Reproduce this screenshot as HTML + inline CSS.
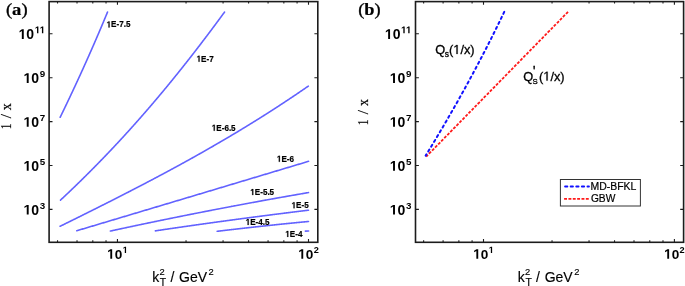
<!DOCTYPE html>
<html><head><meta charset="utf-8"><title>plot</title>
<style>
html,body{margin:0;padding:0;background:#fff;}
body{width:685px;height:286px;overflow:hidden;}
svg{display:block;will-change:transform;}

</style></head>
<body>
<svg width="685" height="286" viewBox="0 0 685 286">
<rect width="685" height="286" fill="#fff"/>
<rect x="49.10" y="1.60" width="268.70" height="240.70" fill="none" stroke="#1c1c1c" stroke-width="1.6"/>
<path d="M117.45,242.30V239.10M117.45,1.60V4.80M308.50,242.30V239.10M308.50,1.60V4.80M106.03,242.30V240.30M106.03,1.60V3.60M92.79,242.30V240.30M92.79,1.60V3.60M77.02,242.30V240.30M77.02,1.60V3.60M57.53,242.30V240.30M57.53,1.60V3.60M186.04,242.30V240.30M186.04,1.60V3.60M223.07,242.30V240.30M223.07,1.60V3.60M248.58,242.30V240.30M248.58,1.60V3.60M268.07,242.30V240.30M268.07,1.60V3.60M283.84,242.30V240.30M283.84,1.60V3.60M297.08,242.30V240.30M297.08,1.60V3.60M49.10,209.40H52.50M317.80,209.40H314.40M49.10,165.50H52.50M317.80,165.50H314.40M49.10,121.60H52.50M317.80,121.60H314.40M49.10,77.70H52.50M317.80,77.70H314.40M49.10,33.80H52.50M317.80,33.80H314.40" stroke="#1c1c1c" stroke-width="1.1" fill="none"/>
<text x="31.26" y="214.60" font-family='"Liberation Sans", sans-serif' font-weight="bold" font-size="14" fill="#000">0</text><path d="M478,0L759,0L759,1409L493,1409L140,1180L140,959L478,1170Z" transform="translate(23.48,214.60) scale(0.00684,-0.00684)" fill="#000"/>
<text x="39.65" y="208.90" font-family='"Liberation Sans", sans-serif' font-weight="bold" font-size="9.8" fill="#000">3</text>
<text x="31.26" y="170.70" font-family='"Liberation Sans", sans-serif' font-weight="bold" font-size="14" fill="#000">0</text><path d="M478,0L759,0L759,1409L493,1409L140,1180L140,959L478,1170Z" transform="translate(23.48,170.70) scale(0.00684,-0.00684)" fill="#000"/>
<text x="39.65" y="165.00" font-family='"Liberation Sans", sans-serif' font-weight="bold" font-size="9.8" fill="#000">5</text>
<text x="31.26" y="126.80" font-family='"Liberation Sans", sans-serif' font-weight="bold" font-size="14" fill="#000">0</text><path d="M478,0L759,0L759,1409L493,1409L140,1180L140,959L478,1170Z" transform="translate(23.48,126.80) scale(0.00684,-0.00684)" fill="#000"/>
<text x="39.65" y="121.10" font-family='"Liberation Sans", sans-serif' font-weight="bold" font-size="9.8" fill="#000">7</text>
<text x="31.26" y="82.90" font-family='"Liberation Sans", sans-serif' font-weight="bold" font-size="14" fill="#000">0</text><path d="M478,0L759,0L759,1409L493,1409L140,1180L140,959L478,1170Z" transform="translate(23.48,82.90) scale(0.00684,-0.00684)" fill="#000"/>
<text x="39.65" y="77.20" font-family='"Liberation Sans", sans-serif' font-weight="bold" font-size="9.8" fill="#000">9</text>
<text x="26.35" y="39.00" font-family='"Liberation Sans", sans-serif' font-weight="bold" font-size="14" fill="#000">0</text><path d="M478,0L759,0L759,1409L493,1409L140,1180L140,959L478,1170Z" transform="translate(18.57,39.00) scale(0.00684,-0.00684)" fill="#000"/>
<path d="M478,0L759,0L759,1409L493,1409L140,1180L140,959L478,1170Z" transform="translate(34.74,33.30) scale(0.00479,-0.00479)" fill="#000"/><path d="M478,0L759,0L759,1409L493,1409L140,1180L140,959L478,1170Z" transform="translate(39.65,33.30) scale(0.00479,-0.00479)" fill="#000"/>
<text x="114.69" y="258.70" font-family='"Liberation Sans", sans-serif' font-weight="bold" font-size="13.6" fill="#000">0</text><path d="M478,0L759,0L759,1409L493,1409L140,1180L140,959L478,1170Z" transform="translate(107.13,258.70) scale(0.00664,-0.00664)" fill="#000"/>
<path d="M478,0L759,0L759,1409L493,1409L140,1180L140,959L478,1170Z" transform="translate(122.66,253.10) scale(0.00449,-0.00449)" fill="#000"/>
<text x="305.74" y="258.70" font-family='"Liberation Sans", sans-serif' font-weight="bold" font-size="13.6" fill="#000">0</text><path d="M478,0L759,0L759,1409L493,1409L140,1180L140,959L478,1170Z" transform="translate(298.18,258.70) scale(0.00664,-0.00664)" fill="#000"/>
<text x="313.71" y="253.10" font-family='"Liberation Sans", sans-serif' font-weight="bold" font-size="9.2" fill="#000">2</text>
<rect x="415.50" y="1.60" width="268.10" height="240.70" fill="none" stroke="#1c1c1c" stroke-width="1.6"/>
<path d="M483.50,242.30V239.10M483.50,1.60V4.80M674.40,242.30V239.10M674.40,1.60V4.80M472.09,242.30V240.30M472.09,1.60V3.60M458.86,242.30V240.30M458.86,1.60V3.60M443.10,242.30V240.30M443.10,1.60V3.60M423.63,242.30V240.30M423.63,1.60V3.60M552.04,242.30V240.30M552.04,1.60V3.60M589.04,242.30V240.30M589.04,1.60V3.60M614.53,242.30V240.30M614.53,1.60V3.60M634.00,242.30V240.30M634.00,1.60V3.60M649.76,242.30V240.30M649.76,1.60V3.60M662.99,242.30V240.30M662.99,1.60V3.60M415.50,209.40H418.90M683.60,209.40H680.20M415.50,165.50H418.90M683.60,165.50H680.20M415.50,121.60H418.90M683.60,121.60H680.20M415.50,77.70H418.90M683.60,77.70H680.20M415.50,33.80H418.90M683.60,33.80H680.20" stroke="#1c1c1c" stroke-width="1.1" fill="none"/>
<text x="397.56" y="214.60" font-family='"Liberation Sans", sans-serif' font-weight="bold" font-size="14" fill="#000">0</text><path d="M478,0L759,0L759,1409L493,1409L140,1180L140,959L478,1170Z" transform="translate(389.78,214.60) scale(0.00684,-0.00684)" fill="#000"/>
<text x="405.95" y="208.90" font-family='"Liberation Sans", sans-serif' font-weight="bold" font-size="9.8" fill="#000">3</text>
<text x="397.56" y="170.70" font-family='"Liberation Sans", sans-serif' font-weight="bold" font-size="14" fill="#000">0</text><path d="M478,0L759,0L759,1409L493,1409L140,1180L140,959L478,1170Z" transform="translate(389.78,170.70) scale(0.00684,-0.00684)" fill="#000"/>
<text x="405.95" y="165.00" font-family='"Liberation Sans", sans-serif' font-weight="bold" font-size="9.8" fill="#000">5</text>
<text x="397.56" y="126.80" font-family='"Liberation Sans", sans-serif' font-weight="bold" font-size="14" fill="#000">0</text><path d="M478,0L759,0L759,1409L493,1409L140,1180L140,959L478,1170Z" transform="translate(389.78,126.80) scale(0.00684,-0.00684)" fill="#000"/>
<text x="405.95" y="121.10" font-family='"Liberation Sans", sans-serif' font-weight="bold" font-size="9.8" fill="#000">7</text>
<text x="397.56" y="82.90" font-family='"Liberation Sans", sans-serif' font-weight="bold" font-size="14" fill="#000">0</text><path d="M478,0L759,0L759,1409L493,1409L140,1180L140,959L478,1170Z" transform="translate(389.78,82.90) scale(0.00684,-0.00684)" fill="#000"/>
<text x="405.95" y="77.20" font-family='"Liberation Sans", sans-serif' font-weight="bold" font-size="9.8" fill="#000">9</text>
<text x="392.65" y="39.00" font-family='"Liberation Sans", sans-serif' font-weight="bold" font-size="14" fill="#000">0</text><path d="M478,0L759,0L759,1409L493,1409L140,1180L140,959L478,1170Z" transform="translate(384.87,39.00) scale(0.00684,-0.00684)" fill="#000"/>
<path d="M478,0L759,0L759,1409L493,1409L140,1180L140,959L478,1170Z" transform="translate(401.04,33.30) scale(0.00479,-0.00479)" fill="#000"/><path d="M478,0L759,0L759,1409L493,1409L140,1180L140,959L478,1170Z" transform="translate(405.95,33.30) scale(0.00479,-0.00479)" fill="#000"/>
<text x="480.74" y="258.70" font-family='"Liberation Sans", sans-serif' font-weight="bold" font-size="13.6" fill="#000">0</text><path d="M478,0L759,0L759,1409L493,1409L140,1180L140,959L478,1170Z" transform="translate(473.18,258.70) scale(0.00664,-0.00664)" fill="#000"/>
<path d="M478,0L759,0L759,1409L493,1409L140,1180L140,959L478,1170Z" transform="translate(488.71,253.10) scale(0.00449,-0.00449)" fill="#000"/>
<text x="671.64" y="258.70" font-family='"Liberation Sans", sans-serif' font-weight="bold" font-size="13.6" fill="#000">0</text><path d="M478,0L759,0L759,1409L493,1409L140,1180L140,959L478,1170Z" transform="translate(664.08,258.70) scale(0.00664,-0.00664)" fill="#000"/>
<text x="679.61" y="253.10" font-family='"Liberation Sans", sans-serif' font-weight="bold" font-size="9.2" fill="#000">2</text>
<text x="5.9" y="15.2" font-family='"Liberation Serif", serif' font-size="17.1" textLength="21.7" lengthAdjust="spacingAndGlyphs" stroke="#000" stroke-width="0.35">(<tspan font-weight="bold" stroke-width="0.2">a</tspan>)</text>
<text x="358.2" y="15.2" font-family='"Liberation Serif", serif' font-size="17.1" textLength="22.5" lengthAdjust="spacingAndGlyphs" stroke="#000" stroke-width="0.35">(<tspan font-weight="bold" stroke-width="0.2">b</tspan>)</text>
<g font-family='"Liberation Serif", serif' text-anchor="middle" fill="#000" stroke="#000" stroke-width="0.2"><text transform="translate(10.75,106.70) rotate(-90) scale(0.9,1)" font-size="15.6">x</text><text transform="translate(10.75,116.05) rotate(-90)" font-size="15">/</text><text transform="translate(10.75,126.35) rotate(-90) scale(0.78,1)" font-size="14.8">1</text></g>
<g font-family='"Liberation Serif", serif' text-anchor="middle" fill="#000" stroke="#000" stroke-width="0.2"><text transform="translate(367.80,102.55) rotate(-90) scale(0.9,1)" font-size="15.6">x</text><text transform="translate(367.80,112.25) rotate(-90)" font-size="15">/</text><text transform="translate(367.80,122.40) rotate(-90) scale(0.78,1)" font-size="14.8">1</text></g>
<text y="281.7" font-family='"Liberation Sans", sans-serif' font-size="14" fill="#000" stroke="#000" stroke-width="0.15"><tspan x="152.20">k</tspan><tspan x="159.50" y="275.4" font-size="9.3">2</tspan><tspan x="159.80" y="285.5" font-size="10.4">T</tspan><tspan x="170.40" y="281.7">/</tspan><tspan x="179.10" y="281.7">GeV</tspan><tspan x="208.60" y="275.4" font-size="9.3">2</tspan></text>
<text y="281.7" font-family='"Liberation Sans", sans-serif' font-size="14" fill="#000" stroke="#000" stroke-width="0.15"><tspan x="517.80">k</tspan><tspan x="525.10" y="275.4" font-size="9.3">2</tspan><tspan x="525.40" y="285.5" font-size="10.4">T</tspan><tspan x="536.00" y="281.7">/</tspan><tspan x="544.70" y="281.7">GeV</tspan><tspan x="574.20" y="275.4" font-size="9.3">2</tspan></text>
<g fill="none" stroke="#6262ff" stroke-width="1.6" stroke-linecap="round" stroke-linejoin="round"><path d="M107.55,12.03 L107.31,12.60 L107.07,13.18 L106.84,13.75 L106.60,14.33 L106.36,14.90 L106.12,15.48 L105.88,16.05 L105.64,16.63 L105.40,17.20 L105.16,17.78 L104.92,18.35 L104.68,18.93 L104.44,19.50 L104.20,20.08 L103.96,20.65 L103.72,21.23 L103.48,21.80 L103.24,22.38 L103.00,22.96 L102.75,23.53 L102.51,24.11 L102.27,24.68 L102.03,25.26 L101.78,25.83 L101.54,26.41 L101.30,26.98 L101.05,27.56 L100.81,28.13 L100.57,28.71 L100.32,29.28 L100.08,29.86 L99.83,30.43 L99.59,31.01 L99.34,31.58 L99.10,32.16 L98.85,32.73 L98.60,33.31 L98.36,33.88 L98.11,34.46 L97.86,35.03 L97.62,35.61 L97.37,36.18 L97.12,36.76 L96.88,37.33 L96.63,37.91 L96.38,38.49 L96.13,39.06 L95.88,39.64 L95.63,40.21 L95.38,40.79 L95.14,41.36 L94.89,41.94 L94.64,42.51 L94.39,43.09 L94.14,43.66 L93.89,44.24 L93.63,44.81 L93.38,45.39 L93.13,45.96 L92.88,46.54 L92.63,47.11 L92.38,47.69 L92.13,48.26 L91.87,48.84 L91.62,49.41 L91.37,49.99 L91.11,50.56 L90.86,51.14 L90.61,51.71 L90.35,52.29 L90.10,52.87 L89.85,53.44 L89.59,54.02 L89.34,54.59 L89.08,55.17 L88.83,55.74 L88.57,56.32 L88.31,56.89 L88.06,57.47 L87.80,58.04 L87.55,58.62 L87.29,59.19 L87.03,59.77 L86.78,60.34 L86.52,60.92 L86.26,61.49 L86.00,62.07 L85.75,62.64 L85.49,63.22 L85.23,63.79 L84.97,64.37 L84.71,64.94 L84.45,65.52 L84.19,66.09 L83.93,66.67 L83.67,67.24 L83.41,67.82 L83.15,68.40 L82.89,68.97 L82.63,69.55 L82.37,70.12 L82.11,70.70 L81.85,71.27 L81.58,71.85 L81.32,72.42 L81.06,73.00 L80.80,73.57 L80.54,74.15 L80.27,74.72 L80.01,75.30 L79.75,75.87 L79.48,76.45 L79.22,77.02 L78.95,77.60 L78.69,78.17 L78.42,78.75 L78.16,79.32 L77.89,79.90 L77.63,80.47 L77.36,81.05 L77.10,81.62 L76.83,82.20 L76.57,82.77 L76.30,83.35 L76.03,83.93 L75.77,84.50 L75.50,85.08 L75.23,85.65 L74.96,86.23 L74.70,86.80 L74.43,87.38 L74.16,87.95 L73.89,88.53 L73.62,89.10 L73.35,89.68 L73.08,90.25 L72.81,90.83 L72.54,91.40 L72.27,91.98 L72.00,92.55 L71.73,93.13 L71.46,93.70 L71.19,94.28 L70.92,94.85 L70.65,95.43 L70.38,96.00 L70.10,96.58 L69.83,97.15 L69.56,97.73 L69.29,98.30 L69.01,98.88 L68.74,99.46 L68.47,100.03 L68.19,100.61 L67.92,101.18 L67.65,101.76 L67.37,102.33 L67.10,102.91 L66.82,103.48 L66.55,104.06 L66.27,104.63 L66.00,105.21 L65.72,105.78 L65.45,106.36 L65.17,106.93 L64.89,107.51 L64.62,108.08 L64.34,108.66 L64.06,109.23 L63.78,109.81 L63.51,110.38 L63.23,110.96 L62.95,111.53 L62.67,112.11 L62.39,112.68 L62.12,113.26 L61.84,113.83 L61.56,114.41 L61.28,114.99 L61.00,115.56 L60.72,116.14 L60.44,116.71 L60.16,117.29"/><path d="M224.58,12.03 L224.16,12.60 L223.74,13.18 L223.31,13.75 L222.89,14.33 L222.47,14.90 L222.05,15.48 L221.62,16.05 L221.20,16.63 L220.78,17.20 L220.35,17.78 L219.93,18.35 L219.51,18.93 L219.08,19.50 L218.66,20.08 L218.23,20.65 L217.81,21.23 L217.38,21.80 L216.95,22.38 L216.53,22.96 L216.10,23.53 L215.67,24.11 L215.25,24.68 L214.82,25.26 L214.39,25.83 L213.96,26.41 L213.53,26.98 L213.11,27.56 L212.68,28.13 L212.25,28.71 L211.82,29.28 L211.39,29.86 L210.95,30.43 L210.52,31.01 L210.09,31.58 L209.66,32.16 L209.23,32.73 L208.80,33.31 L208.36,33.88 L207.93,34.46 L207.50,35.03 L207.06,35.61 L206.63,36.18 L206.19,36.76 L205.76,37.33 L205.32,37.91 L204.89,38.49 L204.45,39.06 L204.01,39.64 L203.58,40.21 L203.14,40.79 L202.70,41.36 L202.26,41.94 L201.82,42.51 L201.38,43.09 L200.95,43.66 L200.51,44.24 L200.07,44.81 L199.62,45.39 L199.18,45.96 L198.74,46.54 L198.30,47.11 L197.86,47.69 L197.42,48.26 L196.97,48.84 L196.53,49.41 L196.09,49.99 L195.64,50.56 L195.20,51.14 L194.75,51.71 L194.31,52.29 L193.86,52.87 L193.41,53.44 L192.97,54.02 L192.52,54.59 L192.07,55.17 L191.63,55.74 L191.18,56.32 L190.73,56.89 L190.28,57.47 L189.83,58.04 L189.38,58.62 L188.93,59.19 L188.48,59.77 L188.03,60.34 L187.57,60.92 L187.12,61.49 L186.67,62.07 L186.21,62.64 L185.76,63.22 L185.31,63.79 L184.85,64.37 L184.40,64.94 L183.94,65.52 L183.49,66.09 L183.03,66.67 L182.57,67.24 L182.11,67.82 L181.66,68.40 L181.20,68.97 L180.74,69.55 L180.28,70.12 L179.82,70.70 L179.36,71.27 L178.90,71.85 L178.44,72.42 L177.98,73.00 L177.51,73.57 L177.05,74.15 L176.59,74.72 L176.12,75.30 L175.66,75.87 L175.19,76.45 L174.73,77.02 L174.26,77.60 L173.80,78.17 L173.33,78.75 L172.86,79.32 L172.39,79.90 L171.93,80.47 L171.46,81.05 L170.99,81.62 L170.52,82.20 L170.05,82.77 L169.58,83.35 L169.11,83.93 L168.63,84.50 L168.16,85.08 L167.69,85.65 L167.21,86.23 L166.74,86.80 L166.27,87.38 L165.79,87.95 L165.31,88.53 L164.84,89.10 L164.36,89.68 L163.88,90.25 L163.41,90.83 L162.93,91.40 L162.45,91.98 L161.97,92.55 L161.49,93.13 L161.01,93.70 L160.53,94.28 L160.05,94.85 L159.56,95.43 L159.08,96.00 L158.60,96.58 L158.11,97.15 L157.63,97.73 L157.14,98.30 L156.66,98.88 L156.17,99.46 L155.68,100.03 L155.20,100.61 L154.71,101.18 L154.22,101.76 L153.73,102.33 L153.24,102.91 L152.75,103.48 L152.26,104.06 L151.77,104.63 L151.28,105.21 L150.78,105.78 L150.29,106.36 L149.80,106.93 L149.30,107.51 L148.81,108.08 L148.31,108.66 L147.81,109.23 L147.32,109.81 L146.82,110.38 L146.32,110.96 L145.82,111.53 L145.32,112.11 L144.82,112.68 L144.32,113.26 L143.82,113.83 L143.32,114.41 L142.82,114.99 L142.31,115.56 L141.81,116.14 L141.31,116.71 L140.80,117.29 L140.30,117.86 L139.79,118.44 L139.28,119.01 L138.77,119.59 L138.27,120.16 L137.76,120.74 L137.25,121.31 L136.74,121.89 L136.23,122.46 L135.72,123.04 L135.20,123.61 L134.69,124.19 L134.18,124.76 L133.66,125.34 L133.15,125.91 L132.63,126.49 L132.12,127.06 L131.60,127.64 L131.08,128.21 L130.56,128.79 L130.05,129.37 L129.53,129.94 L129.01,130.52 L128.48,131.09 L127.96,131.67 L127.44,132.24 L126.92,132.82 L126.39,133.39 L125.87,133.97 L125.35,134.54 L124.82,135.12 L124.29,135.69 L123.77,136.27 L123.24,136.84 L122.71,137.42 L122.18,137.99 L121.65,138.57 L121.12,139.14 L120.59,139.72 L120.06,140.29 L119.53,140.87 L118.99,141.44 L118.46,142.02 L117.92,142.59 L117.39,143.17 L116.85,143.74 L116.31,144.32 L115.78,144.90 L115.24,145.47 L114.70,146.05 L114.16,146.62 L113.62,147.20 L113.08,147.77 L112.54,148.35 L111.99,148.92 L111.45,149.50 L110.90,150.07 L110.36,150.65 L109.81,151.22 L109.27,151.80 L108.72,152.37 L108.17,152.95 L107.62,153.52 L107.07,154.10 L106.52,154.67 L105.97,155.25 L105.42,155.82 L104.87,156.40 L104.32,156.97 L103.76,157.55 L103.21,158.12 L102.65,158.70 L102.09,159.27 L101.54,159.85 L100.98,160.43 L100.42,161.00 L99.86,161.58 L99.30,162.15 L98.74,162.73 L98.18,163.30 L97.62,163.88 L97.05,164.45 L96.49,165.03 L95.92,165.60 L95.36,166.18 L94.79,166.75 L94.22,167.33 L93.65,167.90 L93.09,168.48 L92.52,169.05 L91.95,169.63 L91.37,170.20 L90.80,170.78 L90.23,171.35 L89.66,171.93 L89.08,172.50 L88.51,173.08 L87.93,173.65 L87.35,174.23 L86.77,174.80 L86.20,175.38 L85.62,175.96 L85.04,176.53 L84.45,177.11 L83.87,177.68 L83.29,178.26 L82.71,178.83 L82.12,179.41 L81.54,179.98 L80.95,180.56 L80.36,181.13 L79.77,181.71 L79.19,182.28 L78.60,182.86 L78.01,183.43 L77.41,184.01 L76.82,184.58 L76.23,185.16 L75.63,185.73 L75.04,186.31 L74.44,186.88 L73.85,187.46 L73.25,188.03 L72.65,188.61 L72.05,189.18 L71.45,189.76 L70.85,190.33 L70.25,190.91 L69.65,191.49 L69.05,192.06 L68.44,192.64 L67.84,193.21 L67.23,193.79 L66.62,194.36 L66.01,194.94 L65.41,195.51 L64.80,196.09 L64.19,196.66 L63.57,197.24 L62.96,197.81 L62.35,198.39 L61.73,198.96 L61.12,199.54 L60.50,200.11"/><path d="M60.12,226.28 L60.77,225.96 L61.42,225.64 L62.07,225.32 L62.71,225.00 L63.36,224.68 L64.01,224.36 L64.66,224.04 L65.31,223.72 L65.95,223.40 L66.60,223.08 L67.25,222.76 L67.90,222.44 L68.55,222.12 L69.19,221.80 L69.84,221.48 L70.49,221.16 L71.14,220.84 L71.79,220.52 L72.43,220.20 L73.08,219.88 L73.73,219.56 L74.38,219.24 L75.03,218.92 L75.68,218.60 L76.32,218.27 L76.97,217.95 L77.62,217.63 L78.27,217.31 L78.92,216.99 L79.56,216.67 L80.21,216.35 L80.86,216.02 L81.51,215.70 L82.16,215.38 L82.80,215.06 L83.45,214.74 L84.10,214.41 L84.75,214.09 L85.40,213.77 L86.04,213.45 L86.69,213.12 L87.34,212.80 L87.99,212.48 L88.64,212.15 L89.28,211.83 L89.93,211.51 L90.58,211.18 L91.23,210.86 L91.88,210.54 L92.52,210.21 L93.17,209.89 L93.82,209.56 L94.47,209.24 L95.12,208.92 L95.76,208.59 L96.41,208.27 L97.06,207.94 L97.71,207.62 L98.36,207.29 L99.00,206.97 L99.65,206.64 L100.30,206.32 L100.95,205.99 L101.60,205.66 L102.24,205.34 L102.89,205.01 L103.54,204.69 L104.19,204.36 L104.84,204.03 L105.48,203.71 L106.13,203.38 L106.78,203.05 L107.43,202.73 L108.08,202.40 L108.72,202.07 L109.37,201.74 L110.02,201.42 L110.67,201.09 L111.32,200.76 L111.96,200.43 L112.61,200.10 L113.26,199.78 L113.91,199.45 L114.56,199.12 L115.20,198.79 L115.85,198.46 L116.50,198.13 L117.15,197.80 L117.80,197.47 L118.44,197.14 L119.09,196.81 L119.74,196.48 L120.39,196.15 L121.04,195.82 L121.68,195.49 L122.33,195.16 L122.98,194.82 L123.63,194.49 L124.28,194.16 L124.92,193.83 L125.57,193.50 L126.22,193.16 L126.87,192.83 L127.52,192.50 L128.16,192.17 L128.81,191.83 L129.46,191.50 L130.11,191.17 L130.76,190.83 L131.41,190.50 L132.05,190.16 L132.70,189.83 L133.35,189.50 L134.00,189.16 L134.65,188.83 L135.29,188.49 L135.94,188.15 L136.59,187.82 L137.24,187.48 L137.89,187.15 L138.53,186.81 L139.18,186.47 L139.83,186.14 L140.48,185.80 L141.13,185.46 L141.77,185.12 L142.42,184.79 L143.07,184.45 L143.72,184.11 L144.37,183.77 L145.01,183.43 L145.66,183.09 L146.31,182.75 L146.96,182.41 L147.61,182.07 L148.25,181.73 L148.90,181.39 L149.55,181.05 L150.20,180.71 L150.85,180.37 L151.49,180.03 L152.14,179.69 L152.79,179.35 L153.44,179.00 L154.09,178.66 L154.73,178.32 L155.38,177.97 L156.03,177.63 L156.68,177.29 L157.33,176.94 L157.97,176.60 L158.62,176.26 L159.27,175.91 L159.92,175.57 L160.57,175.22 L161.21,174.88 L161.86,174.53 L162.51,174.18 L163.16,173.84 L163.81,173.49 L164.45,173.14 L165.10,172.80 L165.75,172.45 L166.40,172.10 L167.05,171.75 L167.69,171.40 L168.34,171.06 L168.99,170.71 L169.64,170.36 L170.29,170.01 L170.93,169.66 L171.58,169.31 L172.23,168.96 L172.88,168.61 L173.53,168.25 L174.17,167.90 L174.82,167.55 L175.47,167.20 L176.12,166.85 L176.77,166.49 L177.41,166.14 L178.06,165.79 L178.71,165.43 L179.36,165.08 L180.01,164.72 L180.65,164.37 L181.30,164.01 L181.95,163.66 L182.60,163.30 L183.25,162.95 L183.90,162.59 L184.54,162.23 L185.19,161.88 L185.84,161.52 L186.49,161.16 L187.14,160.80 L187.78,160.45 L188.43,160.09 L189.08,159.73 L189.73,159.37 L190.38,159.01 L191.02,158.65 L191.67,158.29 L192.32,157.93 L192.97,157.57 L193.62,157.20 L194.26,156.84 L194.91,156.48 L195.56,156.12 L196.21,155.75 L196.86,155.39 L197.50,155.03 L198.15,154.66 L198.80,154.30 L199.45,153.93 L200.10,153.57 L200.74,153.20 L201.39,152.84 L202.04,152.47 L202.69,152.10 L203.34,151.73 L203.98,151.37 L204.63,151.00 L205.28,150.63 L205.93,150.26 L206.58,149.89 L207.22,149.52 L207.87,149.15 L208.52,148.78 L209.17,148.41 L209.82,148.04 L210.46,147.67 L211.11,147.30 L211.76,146.93 L212.41,146.55 L213.06,146.18 L213.70,145.81 L214.35,145.43 L215.00,145.06 L215.65,144.68 L216.30,144.31 L216.94,143.93 L217.59,143.56 L218.24,143.18 L218.89,142.80 L219.54,142.43 L220.18,142.05 L220.83,141.67 L221.48,141.29 L222.13,140.91 L222.78,140.53 L223.42,140.15 L224.07,139.77 L224.72,139.39 L225.37,139.01 L226.02,138.63 L226.66,138.25 L227.31,137.86 L227.96,137.48 L228.61,137.10 L229.26,136.71 L229.90,136.33 L230.55,135.95 L231.20,135.56 L231.85,135.18 L232.50,134.79 L233.14,134.40 L233.79,134.02 L234.44,133.63 L235.09,133.24 L235.74,132.85 L236.39,132.46 L237.03,132.07 L237.68,131.69 L238.33,131.30 L238.98,130.90 L239.63,130.51 L240.27,130.12 L240.92,129.73 L241.57,129.34 L242.22,128.94 L242.87,128.55 L243.51,128.16 L244.16,127.76 L244.81,127.37 L245.46,126.97 L246.11,126.58 L246.75,126.18 L247.40,125.78 L248.05,125.39 L248.70,124.99 L249.35,124.59 L249.99,124.19 L250.64,123.79 L251.29,123.39 L251.94,122.99 L252.59,122.59 L253.23,122.19 L253.88,121.79 L254.53,121.39 L255.18,120.98 L255.83,120.58 L256.47,120.18 L257.12,119.77 L257.77,119.37 L258.42,118.96 L259.07,118.56 L259.71,118.15 L260.36,117.75 L261.01,117.34 L261.66,116.93 L262.31,116.52 L262.95,116.11 L263.60,115.70 L264.25,115.29 L264.90,114.88 L265.55,114.47 L266.19,114.06 L266.84,113.65 L267.49,113.24 L268.14,112.82 L268.79,112.41 L269.43,112.00 L270.08,111.58 L270.73,111.17 L271.38,110.75 L272.03,110.33 L272.67,109.92 L273.32,109.50 L273.97,109.08 L274.62,108.66 L275.27,108.24 L275.91,107.82 L276.56,107.40 L277.21,106.98 L277.86,106.56 L278.51,106.14 L279.15,105.72 L279.80,105.29 L280.45,104.87 L281.10,104.45 L281.75,104.02 L282.39,103.60 L283.04,103.17 L283.69,102.75 L284.34,102.32 L284.99,101.89 L285.63,101.46 L286.28,101.03 L286.93,100.61 L287.58,100.18 L288.23,99.75 L288.88,99.31 L289.52,98.88 L290.17,98.45 L290.82,98.02 L291.47,97.58 L292.12,97.15 L292.76,96.72 L293.41,96.28 L294.06,95.85 L294.71,95.41 L295.36,94.97 L296.00,94.54 L296.65,94.10 L297.30,93.66 L297.95,93.22 L298.60,92.78 L299.24,92.34 L299.89,91.90 L300.54,91.46 L301.19,91.01 L301.84,90.57 L302.48,90.13 L303.13,89.68 L303.78,89.24 L304.43,88.79 L305.08,88.35 L305.72,87.90 L306.37,87.45 L307.02,87.01 L307.67,86.56 L308.32,86.11"/><path d="M76.80,230.74 L77.57,230.51 L78.35,230.28 L79.12,230.05 L79.90,229.82 L80.67,229.58 L81.45,229.35 L82.22,229.12 L83.00,228.89 L83.77,228.66 L84.55,228.43 L85.32,228.19 L86.10,227.96 L86.87,227.73 L87.65,227.50 L88.42,227.27 L89.20,227.04 L89.97,226.81 L90.75,226.57 L91.52,226.34 L92.30,226.11 L93.07,225.88 L93.85,225.65 L94.62,225.42 L95.40,225.18 L96.17,224.95 L96.95,224.72 L97.72,224.49 L98.50,224.26 L99.27,224.03 L100.05,223.79 L100.82,223.56 L101.60,223.33 L102.37,223.10 L103.15,222.87 L103.92,222.64 L104.70,222.40 L105.47,222.17 L106.25,221.94 L107.02,221.71 L107.80,221.48 L108.57,221.25 L109.35,221.01 L110.12,220.78 L110.90,220.55 L111.67,220.32 L112.45,220.09 L113.22,219.86 L114.00,219.62 L114.77,219.39 L115.55,219.16 L116.32,218.93 L117.10,218.70 L117.87,218.47 L118.65,218.23 L119.42,218.00 L120.20,217.77 L120.97,217.54 L121.75,217.31 L122.52,217.07 L123.29,216.84 L124.07,216.61 L124.84,216.38 L125.62,216.15 L126.39,215.92 L127.17,215.68 L127.94,215.45 L128.72,215.22 L129.49,214.99 L130.27,214.76 L131.04,214.53 L131.82,214.29 L132.59,214.06 L133.37,213.83 L134.14,213.60 L134.92,213.37 L135.69,213.13 L136.47,212.90 L137.24,212.67 L138.02,212.44 L138.79,212.21 L139.57,211.98 L140.34,211.74 L141.12,211.51 L141.89,211.28 L142.67,211.05 L143.44,210.82 L144.22,210.58 L144.99,210.35 L145.77,210.12 L146.54,209.89 L147.32,209.66 L148.09,209.42 L148.87,209.19 L149.64,208.96 L150.42,208.73 L151.19,208.50 L151.97,208.27 L152.74,208.03 L153.52,207.80 L154.29,207.57 L155.07,207.34 L155.84,207.11 L156.62,206.87 L157.39,206.64 L158.17,206.41 L158.94,206.18 L159.72,205.95 L160.49,205.71 L161.27,205.48 L162.04,205.25 L162.82,205.02 L163.59,204.79 L164.37,204.55 L165.14,204.32 L165.92,204.09 L166.69,203.86 L167.47,203.63 L168.24,203.39 L169.02,203.16 L169.79,202.93 L170.56,202.70 L171.34,202.47 L172.11,202.23 L172.89,202.00 L173.66,201.77 L174.44,201.54 L175.21,201.31 L175.99,201.07 L176.76,200.84 L177.54,200.61 L178.31,200.38 L179.09,200.15 L179.86,199.91 L180.64,199.68 L181.41,199.45 L182.19,199.22 L182.96,198.99 L183.74,198.75 L184.51,198.52 L185.29,198.29 L186.06,198.06 L186.84,197.82 L187.61,197.59 L188.39,197.36 L189.16,197.13 L189.94,196.90 L190.71,196.66 L191.49,196.43 L192.26,196.20 L193.04,195.97 L193.81,195.74 L194.59,195.50 L195.36,195.27 L196.14,195.04 L196.91,194.81 L197.69,194.58 L198.46,194.34 L199.24,194.11 L200.01,193.88 L200.79,193.65 L201.56,193.41 L202.34,193.18 L203.11,192.95 L203.89,192.72 L204.66,192.49 L205.44,192.25 L206.21,192.02 L206.99,191.79 L207.76,191.56 L208.54,191.32 L209.31,191.09 L210.09,190.86 L210.86,190.63 L211.64,190.40 L212.41,190.16 L213.19,189.93 L213.96,189.70 L214.74,189.47 L215.51,189.23 L216.28,189.00 L217.06,188.77 L217.83,188.54 L218.61,188.31 L219.38,188.07 L220.16,187.84 L220.93,187.61 L221.71,187.38 L222.48,187.14 L223.26,186.91 L224.03,186.68 L224.81,186.45 L225.58,186.21 L226.36,185.98 L227.13,185.75 L227.91,185.52 L228.68,185.29 L229.46,185.05 L230.23,184.82 L231.01,184.59 L231.78,184.36 L232.56,184.12 L233.33,183.89 L234.11,183.66 L234.88,183.43 L235.66,183.19 L236.43,182.96 L237.21,182.73 L237.98,182.50 L238.76,182.27 L239.53,182.03 L240.31,181.80 L241.08,181.57 L241.86,181.34 L242.63,181.10 L243.41,180.87 L244.18,180.64 L244.96,180.41 L245.73,180.17 L246.51,179.94 L247.28,179.71 L248.06,179.48 L248.83,179.24 L249.61,179.01 L250.38,178.78 L251.16,178.55 L251.93,178.31 L252.71,178.08 L253.48,177.85 L254.26,177.62 L255.03,177.38 L255.81,177.15 L256.58,176.92 L257.36,176.69 L258.13,176.45 L258.91,176.22 L259.68,175.99 L260.46,175.76 L261.23,175.52 L262.01,175.29 L262.78,175.06 L263.55,174.83 L264.33,174.59 L265.10,174.36 L265.88,174.13 L266.65,173.90 L267.43,173.66 L268.20,173.43 L268.98,173.20 L269.75,172.97 L270.53,172.73 L271.30,172.50 L272.08,172.27 L272.85,172.04 L273.63,171.80 L274.40,171.57 L275.18,171.34 L275.95,171.11 L276.73,170.87 L277.50,170.64 L278.28,170.41 L279.05,170.18 L279.83,169.94 L280.60,169.71 L281.38,169.48 L282.15,169.25 L282.93,169.01 L283.70,168.78 L284.48,168.55 L285.25,168.32 L286.03,168.08 L286.80,167.85 L287.58,167.62 L288.35,167.39 L289.13,167.15 L289.90,166.92 L290.68,166.69 L291.45,166.45 L292.23,166.22 L293.00,165.99 L293.78,165.76 L294.55,165.52 L295.33,165.29 L296.10,165.06 L296.88,164.83 L297.65,164.59 L298.43,164.36 L299.20,164.13 L299.98,163.90 L300.75,163.66 L301.53,163.43 L302.30,163.20 L303.08,162.96 L303.85,162.73 L304.63,162.50 L305.40,162.27 L306.18,162.03 L306.95,161.80 L307.73,161.57 L308.50,161.34"/><path d="M110.40,231.05 L111.06,230.91 L111.73,230.76 L112.39,230.62 L113.05,230.47 L113.71,230.33 L114.38,230.19 L115.04,230.04 L115.70,229.90 L116.36,229.76 L117.03,229.62 L117.69,229.47 L118.35,229.33 L119.01,229.19 L119.68,229.04 L120.34,228.90 L121.00,228.76 L121.66,228.62 L122.33,228.48 L122.99,228.33 L123.65,228.19 L124.31,228.05 L124.98,227.91 L125.64,227.77 L126.30,227.62 L126.96,227.48 L127.63,227.34 L128.29,227.20 L128.95,227.06 L129.61,226.92 L130.28,226.78 L130.94,226.64 L131.60,226.50 L132.26,226.35 L132.93,226.21 L133.59,226.07 L134.25,225.93 L134.91,225.79 L135.58,225.65 L136.24,225.51 L136.90,225.37 L137.56,225.23 L138.23,225.09 L138.89,224.95 L139.55,224.81 L140.21,224.68 L140.88,224.54 L141.54,224.40 L142.20,224.26 L142.86,224.12 L143.53,223.98 L144.19,223.84 L144.85,223.70 L145.51,223.56 L146.18,223.43 L146.84,223.29 L147.50,223.15 L148.16,223.01 L148.83,222.87 L149.49,222.73 L150.15,222.60 L150.82,222.46 L151.48,222.32 L152.14,222.18 L152.80,222.05 L153.47,221.91 L154.13,221.77 L154.79,221.63 L155.45,221.50 L156.12,221.36 L156.78,221.22 L157.44,221.09 L158.10,220.95 L158.77,220.81 L159.43,220.68 L160.09,220.54 L160.75,220.40 L161.42,220.27 L162.08,220.13 L162.74,220.00 L163.40,219.86 L164.07,219.72 L164.73,219.59 L165.39,219.45 L166.05,219.32 L166.72,219.18 L167.38,219.05 L168.04,218.91 L168.70,218.78 L169.37,218.64 L170.03,218.51 L170.69,218.37 L171.35,218.24 L172.02,218.10 L172.68,217.97 L173.34,217.83 L174.00,217.70 L174.67,217.57 L175.33,217.43 L175.99,217.30 L176.65,217.16 L177.32,217.03 L177.98,216.90 L178.64,216.76 L179.30,216.63 L179.97,216.50 L180.63,216.36 L181.29,216.23 L181.95,216.10 L182.62,215.96 L183.28,215.83 L183.94,215.70 L184.60,215.57 L185.27,215.43 L185.93,215.30 L186.59,215.17 L187.25,215.04 L187.92,214.91 L188.58,214.77 L189.24,214.64 L189.91,214.51 L190.57,214.38 L191.23,214.25 L191.89,214.12 L192.56,213.98 L193.22,213.85 L193.88,213.72 L194.54,213.59 L195.21,213.46 L195.87,213.33 L196.53,213.20 L197.19,213.07 L197.86,212.94 L198.52,212.81 L199.18,212.68 L199.84,212.55 L200.51,212.42 L201.17,212.29 L201.83,212.16 L202.49,212.03 L203.16,211.90 L203.82,211.77 L204.48,211.64 L205.14,211.51 L205.81,211.38 L206.47,211.25 L207.13,211.12 L207.79,210.99 L208.46,210.86 L209.12,210.73 L209.78,210.60 L210.44,210.48 L211.11,210.35 L211.77,210.22 L212.43,210.09 L213.09,209.96 L213.76,209.83 L214.42,209.71 L215.08,209.58 L215.74,209.45 L216.41,209.32 L217.07,209.20 L217.73,209.07 L218.39,208.94 L219.06,208.81 L219.72,208.69 L220.38,208.56 L221.04,208.43 L221.71,208.31 L222.37,208.18 L223.03,208.05 L223.69,207.93 L224.36,207.80 L225.02,207.67 L225.68,207.55 L226.34,207.42 L227.01,207.29 L227.67,207.17 L228.33,207.04 L228.99,206.92 L229.66,206.79 L230.32,206.67 L230.98,206.54 L231.65,206.41 L232.31,206.29 L232.97,206.16 L233.63,206.04 L234.30,205.91 L234.96,205.79 L235.62,205.66 L236.28,205.54 L236.95,205.42 L237.61,205.29 L238.27,205.17 L238.93,205.04 L239.60,204.92 L240.26,204.79 L240.92,204.67 L241.58,204.55 L242.25,204.42 L242.91,204.30 L243.57,204.18 L244.23,204.05 L244.90,203.93 L245.56,203.81 L246.22,203.68 L246.88,203.56 L247.55,203.44 L248.21,203.31 L248.87,203.19 L249.53,203.07 L250.20,202.95 L250.86,202.82 L251.52,202.70 L252.18,202.58 L252.85,202.46 L253.51,202.34 L254.17,202.21 L254.83,202.09 L255.50,201.97 L256.16,201.85 L256.82,201.73 L257.48,201.61 L258.15,201.48 L258.81,201.36 L259.47,201.24 L260.13,201.12 L260.80,201.00 L261.46,200.88 L262.12,200.76 L262.78,200.64 L263.45,200.52 L264.11,200.40 L264.77,200.28 L265.43,200.16 L266.10,200.04 L266.76,199.92 L267.42,199.80 L268.08,199.68 L268.75,199.56 L269.41,199.44 L270.07,199.32 L270.74,199.20 L271.40,199.08 L272.06,198.96 L272.72,198.84 L273.39,198.72 L274.05,198.61 L274.71,198.49 L275.37,198.37 L276.04,198.25 L276.70,198.13 L277.36,198.01 L278.02,197.89 L278.69,197.78 L279.35,197.66 L280.01,197.54 L280.67,197.42 L281.34,197.31 L282.00,197.19 L282.66,197.07 L283.32,196.95 L283.99,196.84 L284.65,196.72 L285.31,196.60 L285.97,196.48 L286.64,196.37 L287.30,196.25 L287.96,196.13 L288.62,196.02 L289.29,195.90 L289.95,195.78 L290.61,195.67 L291.27,195.55 L291.94,195.44 L292.60,195.32 L293.26,195.20 L293.92,195.09 L294.59,194.97 L295.25,194.86 L295.91,194.74 L296.57,194.63 L297.24,194.51 L297.90,194.40 L298.56,194.28 L299.22,194.17 L299.89,194.05 L300.55,193.94 L301.21,193.82 L301.87,193.71 L302.54,193.59 L303.20,193.48 L303.86,193.36 L304.52,193.25 L305.19,193.14 L305.85,193.02 L306.51,192.91 L307.17,192.79 L307.84,192.68 L308.50,192.57"/><path d="M155.40,230.85 L155.91,230.78 L156.42,230.70 L156.94,230.62 L157.45,230.55 L157.96,230.47 L158.47,230.39 L158.98,230.32 L159.50,230.24 L160.01,230.17 L160.52,230.09 L161.03,230.01 L161.54,229.94 L162.06,229.86 L162.57,229.79 L163.08,229.71 L163.59,229.64 L164.10,229.56 L164.62,229.49 L165.13,229.41 L165.64,229.33 L166.15,229.26 L166.66,229.18 L167.18,229.11 L167.69,229.03 L168.20,228.96 L168.71,228.88 L169.23,228.81 L169.74,228.73 L170.25,228.66 L170.76,228.58 L171.27,228.51 L171.79,228.43 L172.30,228.36 L172.81,228.28 L173.32,228.21 L173.83,228.14 L174.35,228.06 L174.86,227.99 L175.37,227.91 L175.88,227.84 L176.39,227.76 L176.91,227.69 L177.42,227.61 L177.93,227.54 L178.44,227.47 L178.95,227.39 L179.47,227.32 L179.98,227.24 L180.49,227.17 L181.00,227.10 L181.51,227.02 L182.03,226.95 L182.54,226.87 L183.05,226.80 L183.56,226.73 L184.07,226.65 L184.59,226.58 L185.10,226.51 L185.61,226.43 L186.12,226.36 L186.63,226.29 L187.15,226.21 L187.66,226.14 L188.17,226.07 L188.68,225.99 L189.19,225.92 L189.71,225.85 L190.22,225.77 L190.73,225.70 L191.24,225.63 L191.75,225.56 L192.27,225.48 L192.78,225.41 L193.29,225.34 L193.80,225.26 L194.32,225.19 L194.83,225.12 L195.34,225.05 L195.85,224.97 L196.36,224.90 L196.88,224.83 L197.39,224.76 L197.90,224.68 L198.41,224.61 L198.92,224.54 L199.44,224.47 L199.95,224.40 L200.46,224.32 L200.97,224.25 L201.48,224.18 L202.00,224.11 L202.51,224.04 L203.02,223.96 L203.53,223.89 L204.04,223.82 L204.56,223.75 L205.07,223.68 L205.58,223.61 L206.09,223.53 L206.60,223.46 L207.12,223.39 L207.63,223.32 L208.14,223.25 L208.65,223.18 L209.16,223.11 L209.68,223.03 L210.19,222.96 L210.70,222.89 L211.21,222.82 L211.72,222.75 L212.24,222.68 L212.75,222.61 L213.26,222.54 L213.77,222.47 L214.28,222.40 L214.80,222.33 L215.31,222.25 L215.82,222.18 L216.33,222.11 L216.84,222.04 L217.36,221.97 L217.87,221.90 L218.38,221.83 L218.89,221.76 L219.41,221.69 L219.92,221.62 L220.43,221.55 L220.94,221.48 L221.45,221.41 L221.97,221.34 L222.48,221.27 L222.99,221.20 L223.50,221.13 L224.01,221.06 L224.53,220.99 L225.04,220.92 L225.55,220.85 L226.06,220.78 L226.57,220.71 L227.09,220.64 L227.60,220.57 L228.11,220.50 L228.62,220.43 L229.13,220.36 L229.65,220.30 L230.16,220.23 L230.67,220.16 L231.18,220.09 L231.69,220.02 L232.21,219.95 L232.72,219.88 L233.23,219.81 L233.74,219.74 L234.25,219.67 L234.77,219.61 L235.28,219.54 L235.79,219.47 L236.30,219.40 L236.81,219.33 L237.33,219.26 L237.84,219.19 L238.35,219.12 L238.86,219.06 L239.37,218.99 L239.89,218.92 L240.40,218.85 L240.91,218.78 L241.42,218.71 L241.93,218.65 L242.45,218.58 L242.96,218.51 L243.47,218.44 L243.98,218.37 L244.49,218.31 L245.01,218.24 L245.52,218.17 L246.03,218.10 L246.54,218.04 L247.06,217.97 L247.57,217.90 L248.08,217.83 L248.59,217.77 L249.10,217.70 L249.62,217.63 L250.13,217.56 L250.64,217.50 L251.15,217.43 L251.66,217.36 L252.18,217.29 L252.69,217.23 L253.20,217.16 L253.71,217.09 L254.22,217.03 L254.74,216.96 L255.25,216.89 L255.76,216.83 L256.27,216.76 L256.78,216.69 L257.30,216.63 L257.81,216.56 L258.32,216.49 L258.83,216.43 L259.34,216.36 L259.86,216.29 L260.37,216.23 L260.88,216.16 L261.39,216.09 L261.90,216.03 L262.42,215.96 L262.93,215.89 L263.44,215.83 L263.95,215.76 L264.46,215.70 L264.98,215.63 L265.49,215.56 L266.00,215.50 L266.51,215.43 L267.02,215.37 L267.54,215.30 L268.05,215.24 L268.56,215.17 L269.07,215.10 L269.58,215.04 L270.10,214.97 L270.61,214.91 L271.12,214.84 L271.63,214.78 L272.15,214.71 L272.66,214.65 L273.17,214.58 L273.68,214.52 L274.19,214.45 L274.71,214.39 L275.22,214.32 L275.73,214.26 L276.24,214.19 L276.75,214.13 L277.27,214.06 L277.78,214.00 L278.29,213.93 L278.80,213.87 L279.31,213.80 L279.83,213.74 L280.34,213.67 L280.85,213.61 L281.36,213.55 L281.87,213.48 L282.39,213.42 L282.90,213.35 L283.41,213.29 L283.92,213.22 L284.43,213.16 L284.95,213.10 L285.46,213.03 L285.97,212.97 L286.48,212.90 L286.99,212.84 L287.51,212.78 L288.02,212.71 L288.53,212.65 L289.04,212.59 L289.55,212.52 L290.07,212.46 L290.58,212.39 L291.09,212.33 L291.60,212.27 L292.11,212.20 L292.63,212.14 L293.14,212.08 L293.65,212.01 L294.16,211.95 L294.67,211.89 L295.19,211.83 L295.70,211.76 L296.21,211.70 L296.72,211.64 L297.24,211.57 L297.75,211.51 L298.26,211.45 L298.77,211.38 L299.28,211.32 L299.80,211.26 L300.31,211.20 L300.82,211.13 L301.33,211.07 L301.84,211.01 L302.36,210.95 L302.87,210.88 L303.38,210.82 L303.89,210.76 L304.40,210.70 L304.92,210.64 L305.43,210.57 L305.94,210.51 L306.45,210.45 L306.96,210.39 L307.48,210.33 L307.99,210.26 L308.50,210.20"/><path d="M217.20,231.30 L217.51,231.27 L217.81,231.23 L218.12,231.19 L218.42,231.16 L218.73,231.12 L219.03,231.08 L219.34,231.05 L219.64,231.01 L219.95,230.97 L220.25,230.94 L220.56,230.90 L220.86,230.86 L221.17,230.83 L221.47,230.79 L221.78,230.76 L222.09,230.72 L222.39,230.68 L222.70,230.65 L223.00,230.61 L223.31,230.57 L223.61,230.54 L223.92,230.50 L224.22,230.47 L224.53,230.43 L224.83,230.39 L225.14,230.36 L225.44,230.32 L225.75,230.29 L226.06,230.25 L226.36,230.21 L226.67,230.18 L226.97,230.14 L227.28,230.11 L227.58,230.07 L227.89,230.04 L228.19,230.00 L228.50,229.96 L228.80,229.93 L229.11,229.89 L229.41,229.86 L229.72,229.82 L230.02,229.79 L230.33,229.75 L230.64,229.71 L230.94,229.68 L231.25,229.64 L231.55,229.61 L231.86,229.57 L232.16,229.54 L232.47,229.50 L232.77,229.47 L233.08,229.43 L233.38,229.40 L233.69,229.36 L233.99,229.33 L234.30,229.29 L234.61,229.25 L234.91,229.22 L235.22,229.18 L235.52,229.15 L235.83,229.11 L236.13,229.08 L236.44,229.04 L236.74,229.01 L237.05,228.97 L237.35,228.94 L237.66,228.90 L237.96,228.87 L238.27,228.83 L238.57,228.80 L238.88,228.76 L239.19,228.73 L239.49,228.69 L239.80,228.66 L240.10,228.63 L240.41,228.59 L240.71,228.56 L241.02,228.52 L241.32,228.49 L241.63,228.45 L241.93,228.42 L242.24,228.38 L242.54,228.35 L242.85,228.31 L243.15,228.28 L243.46,228.24 L243.77,228.21 L244.07,228.18 L244.38,228.14 L244.68,228.11 L244.99,228.07 L245.29,228.04 L245.60,228.00 L245.90,227.97 L246.21,227.94 L246.51,227.90 L246.82,227.87 L247.12,227.83 L247.43,227.80 L247.74,227.76 L248.04,227.73 L248.35,227.70 L248.65,227.66 L248.96,227.63 L249.26,227.59 L249.57,227.56 L249.87,227.53 L250.18,227.49 L250.48,227.46 L250.79,227.43 L251.09,227.39 L251.40,227.36 L251.70,227.32 L252.01,227.29 L252.32,227.26 L252.62,227.22 L252.93,227.19 L253.23,227.16 L253.54,227.12 L253.84,227.09 L254.15,227.05 L254.45,227.02 L254.76,226.99 L255.06,226.95 L255.37,226.92 L255.67,226.89 L255.98,226.85 L256.28,226.82 L256.59,226.79 L256.90,226.75 L257.20,226.72 L257.51,226.69 L257.81,226.65 L258.12,226.62 L258.42,226.59 L258.73,226.55 L259.03,226.52 L259.34,226.49 L259.64,226.45 L259.95,226.42 L260.25,226.39 L260.56,226.35 L260.87,226.32 L261.17,226.29 L261.48,226.26 L261.78,226.22 L262.09,226.19 L262.39,226.16 L262.70,226.12 L263.00,226.09 L263.31,226.06 L263.61,226.03 L263.92,225.99 L264.22,225.96 L264.53,225.93 L264.83,225.89 L265.14,225.86 L265.45,225.83 L265.75,225.80 L266.06,225.76 L266.36,225.73 L266.67,225.70 L266.97,225.67 L267.28,225.63 L267.58,225.60 L267.89,225.57 L268.19,225.54 L268.50,225.50 L268.80,225.47 L269.11,225.44 L269.42,225.41 L269.72,225.38 L270.03,225.34 L270.33,225.31 L270.64,225.28 L270.94,225.25 L271.25,225.21 L271.55,225.18 L271.86,225.15 L272.16,225.12 L272.47,225.09 L272.77,225.05 L273.08,225.02 L273.38,224.99 L273.69,224.96 L274.00,224.93 L274.30,224.89 L274.61,224.86 L274.91,224.83 L275.22,224.80 L275.52,224.77 L275.83,224.73 L276.13,224.70 L276.44,224.67 L276.74,224.64 L277.05,224.61 L277.35,224.58 L277.66,224.54 L277.96,224.51 L278.27,224.48 L278.58,224.45 L278.88,224.42 L279.19,224.39 L279.49,224.36 L279.80,224.32 L280.10,224.29 L280.41,224.26 L280.71,224.23 L281.02,224.20 L281.32,224.17 L281.63,224.14 L281.93,224.10 L282.24,224.07 L282.55,224.04 L282.85,224.01 L283.16,223.98 L283.46,223.95 L283.77,223.92 L284.07,223.89 L284.38,223.86 L284.68,223.82 L284.99,223.79 L285.29,223.76 L285.60,223.73 L285.90,223.70 L286.21,223.67 L286.51,223.64 L286.82,223.61 L287.13,223.58 L287.43,223.55 L287.74,223.52 L288.04,223.48 L288.35,223.45 L288.65,223.42 L288.96,223.39 L289.26,223.36 L289.57,223.33 L289.87,223.30 L290.18,223.27 L290.48,223.24 L290.79,223.21 L291.09,223.18 L291.40,223.15 L291.71,223.12 L292.01,223.09 L292.32,223.06 L292.62,223.03 L292.93,223.00 L293.23,222.97 L293.54,222.93 L293.84,222.90 L294.15,222.87 L294.45,222.84 L294.76,222.81 L295.06,222.78 L295.37,222.75 L295.68,222.72 L295.98,222.69 L296.29,222.66 L296.59,222.63 L296.90,222.60 L297.20,222.57 L297.51,222.54 L297.81,222.51 L298.12,222.48 L298.42,222.45 L298.73,222.42 L299.03,222.39 L299.34,222.36 L299.64,222.33 L299.95,222.30 L300.26,222.27 L300.56,222.24 L300.87,222.22 L301.17,222.19 L301.48,222.16 L301.78,222.13 L302.09,222.10 L302.39,222.07 L302.70,222.04 L303.00,222.01 L303.31,221.98 L303.61,221.95 L303.92,221.92 L304.23,221.89 L304.53,221.86 L304.84,221.83 L305.14,221.80 L305.45,221.77 L305.75,221.74 L306.06,221.71 L306.36,221.69 L306.67,221.66 L306.97,221.63 L307.28,221.60 L307.58,221.57 L307.89,221.54 L308.19,221.51 L308.50,221.48"/><path d="M305.4,231.1 L308.6,231.0"/></g>
<g transform="translate(106.60,27.40) scale(0.93,1)"><text x="4.84 10.64 13.54 18.38 20.79" y="0.00" font-family='"Liberation Sans", sans-serif' font-weight="bold" font-size="8.7" fill="#000" stroke="#000" stroke-width="0.2">E-7.5</text><path d="M478,0L759,0L759,1409L493,1409L140,1180L140,959L478,1170Z" transform="translate(0.00,0.00) scale(0.00425,-0.00425)" fill="#000" stroke="#000" stroke-width="0.2" vector-effect="non-scaling-stroke"/></g>
<g transform="translate(196.60,61.70) scale(0.93,1)"><text x="4.84 10.64 13.54" y="0.00" font-family='"Liberation Sans", sans-serif' font-weight="bold" font-size="8.7" fill="#000" stroke="#000" stroke-width="0.2">E-7</text><path d="M478,0L759,0L759,1409L493,1409L140,1180L140,959L478,1170Z" transform="translate(0.00,0.00) scale(0.00425,-0.00425)" fill="#000" stroke="#000" stroke-width="0.2" vector-effect="non-scaling-stroke"/></g>
<g transform="translate(211.80,130.80) scale(0.93,1)"><text x="4.84 10.64 13.54 18.38 20.79" y="0.00" font-family='"Liberation Sans", sans-serif' font-weight="bold" font-size="8.7" fill="#000" stroke="#000" stroke-width="0.2">E-6.5</text><path d="M478,0L759,0L759,1409L493,1409L140,1180L140,959L478,1170Z" transform="translate(0.00,0.00) scale(0.00425,-0.00425)" fill="#000" stroke="#000" stroke-width="0.2" vector-effect="non-scaling-stroke"/></g>
<g transform="translate(276.90,161.80) scale(0.93,1)"><text x="4.84 10.64 13.54" y="0.00" font-family='"Liberation Sans", sans-serif' font-weight="bold" font-size="8.7" fill="#000" stroke="#000" stroke-width="0.2">E-6</text><path d="M478,0L759,0L759,1409L493,1409L140,1180L140,959L478,1170Z" transform="translate(0.00,0.00) scale(0.00425,-0.00425)" fill="#000" stroke="#000" stroke-width="0.2" vector-effect="non-scaling-stroke"/></g>
<g transform="translate(250.30,195.10) scale(0.93,1)"><text x="4.84 10.64 13.54 18.38 20.79" y="0.00" font-family='"Liberation Sans", sans-serif' font-weight="bold" font-size="8.7" fill="#000" stroke="#000" stroke-width="0.2">E-5.5</text><path d="M478,0L759,0L759,1409L493,1409L140,1180L140,959L478,1170Z" transform="translate(0.00,0.00) scale(0.00425,-0.00425)" fill="#000" stroke="#000" stroke-width="0.2" vector-effect="non-scaling-stroke"/></g>
<g transform="translate(291.60,208.30) scale(0.93,1)"><text x="4.84 10.64 13.54" y="0.00" font-family='"Liberation Sans", sans-serif' font-weight="bold" font-size="8.7" fill="#000" stroke="#000" stroke-width="0.2">E-5</text><path d="M478,0L759,0L759,1409L493,1409L140,1180L140,959L478,1170Z" transform="translate(0.00,0.00) scale(0.00425,-0.00425)" fill="#000" stroke="#000" stroke-width="0.2" vector-effect="non-scaling-stroke"/></g>
<g transform="translate(245.70,225.00) scale(0.93,1)"><text x="4.84 10.64 13.54 18.38 20.79" y="0.00" font-family='"Liberation Sans", sans-serif' font-weight="bold" font-size="8.7" fill="#000" stroke="#000" stroke-width="0.2">E-4.5</text><path d="M478,0L759,0L759,1409L493,1409L140,1180L140,959L478,1170Z" transform="translate(0.00,0.00) scale(0.00425,-0.00425)" fill="#000" stroke="#000" stroke-width="0.2" vector-effect="non-scaling-stroke"/></g>
<g transform="translate(285.30,236.90) scale(0.93,1)"><text x="4.84 10.64 13.54" y="0.00" font-family='"Liberation Sans", sans-serif' font-weight="bold" font-size="8.7" fill="#000" stroke="#000" stroke-width="0.2">E-4</text><path d="M478,0L759,0L759,1409L493,1409L140,1180L140,959L478,1170Z" transform="translate(0.00,0.00) scale(0.00425,-0.00425)" fill="#000" stroke="#000" stroke-width="0.2" vector-effect="non-scaling-stroke"/></g>
<path d="M568.02,11.85 L567.31,12.58 L566.60,13.30 L565.89,14.03 L565.17,14.76 L564.46,15.49 L563.75,16.21 L563.03,16.94 L562.32,17.67 L561.61,18.40 L560.90,19.12 L560.18,19.85 L559.47,20.58 L558.76,21.31 L558.05,22.03 L557.33,22.76 L556.62,23.49 L555.91,24.22 L555.20,24.94 L554.48,25.67 L553.77,26.40 L553.06,27.13 L552.35,27.85 L551.63,28.58 L550.92,29.31 L550.21,30.03 L549.50,30.76 L548.78,31.49 L548.07,32.22 L547.36,32.94 L546.65,33.67 L545.93,34.40 L545.22,35.13 L544.51,35.85 L543.80,36.58 L543.08,37.31 L542.37,38.04 L541.66,38.76 L540.95,39.49 L540.23,40.22 L539.52,40.95 L538.81,41.67 L538.10,42.40 L537.38,43.13 L536.67,43.86 L535.96,44.58 L535.25,45.31 L534.53,46.04 L533.82,46.76 L533.11,47.49 L532.40,48.22 L531.68,48.95 L530.97,49.67 L530.26,50.40 L529.55,51.13 L528.83,51.86 L528.12,52.58 L527.41,53.31 L526.70,54.04 L525.98,54.77 L525.27,55.49 L524.56,56.22 L523.85,56.95 L523.13,57.68 L522.42,58.40 L521.71,59.13 L521.00,59.86 L520.28,60.58 L519.57,61.31 L518.86,62.04 L518.15,62.77 L517.43,63.49 L516.72,64.22 L516.01,64.95 L515.30,65.68 L514.58,66.40 L513.87,67.13 L513.16,67.86 L512.45,68.59 L511.73,69.31 L511.02,70.04 L510.31,70.77 L509.60,71.50 L508.88,72.22 L508.17,72.95 L507.46,73.68 L506.75,74.41 L506.03,75.13 L505.32,75.86 L504.61,76.59 L503.90,77.31 L503.18,78.04 L502.47,78.77 L501.76,79.50 L501.05,80.22 L500.33,80.95 L499.62,81.68 L498.91,82.41 L498.20,83.13 L497.48,83.86 L496.77,84.59 L496.06,85.32 L495.35,86.04 L494.63,86.77 L493.92,87.50 L493.21,88.23 L492.50,88.95 L491.78,89.68 L491.07,90.41 L490.36,91.14 L489.65,91.86 L488.93,92.59 L488.22,93.32 L487.51,94.04 L486.79,94.77 L486.08,95.50 L485.37,96.23 L484.66,96.95 L483.94,97.68 L483.23,98.41 L482.52,99.14 L481.81,99.86 L481.09,100.59 L480.38,101.32 L479.67,102.05 L478.96,102.77 L478.24,103.50 L477.53,104.23 L476.82,104.96 L476.11,105.68 L475.39,106.41 L474.68,107.14 L473.97,107.87 L473.26,108.59 L472.54,109.32 L471.83,110.05 L471.12,110.77 L470.41,111.50 L469.69,112.23 L468.98,112.96 L468.27,113.68 L467.56,114.41 L466.84,115.14 L466.13,115.87 L465.42,116.59 L464.71,117.32 L463.99,118.05 L463.28,118.78 L462.57,119.50 L461.86,120.23 L461.14,120.96 L460.43,121.69 L459.72,122.41 L459.01,123.14 L458.29,123.87 L457.58,124.59 L456.87,125.32 L456.16,126.05 L455.44,126.78 L454.73,127.50 L454.02,128.23 L453.31,128.96 L452.59,129.69 L451.88,130.41 L451.17,131.14 L450.46,131.87 L449.74,132.60 L449.03,133.32 L448.32,134.05 L447.61,134.78 L446.89,135.51 L446.18,136.23 L445.47,136.96 L444.76,137.69 L444.04,138.42 L443.33,139.14 L442.62,139.87 L441.91,140.60 L441.19,141.32 L440.48,142.05 L439.77,142.78 L439.06,143.51 L438.34,144.23 L437.63,144.96 L436.92,145.69 L436.21,146.42 L435.49,147.14 L434.78,147.87 L434.07,148.60 L433.36,149.33 L432.64,150.05 L431.93,150.78 L431.22,151.51 L430.51,152.24 L429.79,152.96 L429.08,153.69 L428.37,154.42 L427.66,155.15 L426.94,155.87 L426.23,156.60" fill="none" stroke="#ff1a1a" stroke-width="1.8" stroke-dasharray="2.9 1.45"/>
<path d="M504.26,11.85 L503.91,12.57 L503.57,13.29 L503.22,14.02 L502.87,14.74 L502.52,15.46 L502.17,16.18 L501.83,16.91 L501.48,17.63 L501.12,18.35 L500.77,19.07 L500.42,19.80 L500.07,20.52 L499.72,21.24 L499.37,21.96 L499.01,22.69 L498.66,23.41 L498.30,24.13 L497.95,24.85 L497.59,25.57 L497.24,26.30 L496.88,27.02 L496.53,27.74 L496.17,28.46 L495.81,29.19 L495.45,29.91 L495.09,30.63 L494.74,31.35 L494.38,32.08 L494.02,32.80 L493.66,33.52 L493.29,34.24 L492.93,34.97 L492.57,35.69 L492.21,36.41 L491.84,37.13 L491.48,37.86 L491.12,38.58 L490.75,39.30 L490.39,40.02 L490.02,40.74 L489.66,41.47 L489.29,42.19 L488.92,42.91 L488.55,43.63 L488.19,44.36 L487.82,45.08 L487.45,45.80 L487.08,46.52 L486.71,47.25 L486.34,47.97 L485.97,48.69 L485.60,49.41 L485.23,50.14 L484.85,50.86 L484.48,51.58 L484.11,52.30 L483.73,53.02 L483.36,53.75 L482.98,54.47 L482.61,55.19 L482.23,55.91 L481.86,56.64 L481.48,57.36 L481.10,58.08 L480.72,58.80 L480.35,59.53 L479.97,60.25 L479.59,60.97 L479.21,61.69 L478.83,62.42 L478.45,63.14 L478.07,63.86 L477.68,64.58 L477.30,65.30 L476.92,66.03 L476.54,66.75 L476.15,67.47 L475.77,68.19 L475.38,68.92 L475.00,69.64 L474.61,70.36 L474.23,71.08 L473.84,71.81 L473.45,72.53 L473.07,73.25 L472.68,73.97 L472.29,74.70 L471.90,75.42 L471.51,76.14 L471.12,76.86 L470.73,77.58 L470.34,78.31 L469.95,79.03 L469.55,79.75 L469.16,80.47 L468.77,81.20 L468.38,81.92 L467.98,82.64 L467.59,83.36 L467.19,84.09 L466.80,84.81 L466.40,85.53 L466.00,86.25 L465.61,86.98 L465.21,87.70 L464.81,88.42 L464.41,89.14 L464.02,89.87 L463.62,90.59 L463.22,91.31 L462.82,92.03 L462.41,92.75 L462.01,93.48 L461.61,94.20 L461.21,94.92 L460.81,95.64 L460.40,96.37 L460.00,97.09 L459.60,97.81 L459.19,98.53 L458.78,99.26 L458.38,99.98 L457.97,100.70 L457.57,101.42 L457.16,102.15 L456.75,102.87 L456.34,103.59 L455.93,104.31 L455.53,105.03 L455.12,105.76 L454.71,106.48 L454.29,107.20 L453.88,107.92 L453.47,108.65 L453.06,109.37 L452.65,110.09 L452.23,110.81 L451.82,111.54 L451.41,112.26 L450.99,112.98 L450.58,113.70 L450.16,114.43 L449.74,115.15 L449.33,115.87 L448.91,116.59 L448.49,117.31 L448.08,118.04 L447.66,118.76 L447.24,119.48 L446.82,120.20 L446.40,120.93 L445.98,121.65 L445.56,122.37 L445.14,123.09 L444.71,123.82 L444.29,124.54 L443.87,125.26 L443.45,125.98 L443.02,126.71 L442.60,127.43 L442.17,128.15 L441.75,128.87 L441.32,129.59 L440.89,130.32 L440.47,131.04 L440.04,131.76 L439.61,132.48 L439.18,133.21 L438.76,133.93 L438.33,134.65 L437.90,135.37 L437.47,136.10 L437.04,136.82 L436.60,137.54 L436.17,138.26 L435.74,138.99 L435.31,139.71 L434.87,140.43 L434.44,141.15 L434.01,141.88 L433.57,142.60 L433.14,143.32 L432.70,144.04 L432.26,144.76 L431.83,145.49 L431.39,146.21 L430.95,146.93 L430.51,147.65 L430.08,148.38 L429.64,149.10 L429.20,149.82 L428.76,150.54 L428.32,151.27 L427.88,151.99 L427.43,152.71 L426.99,153.43 L426.55,154.16 L426.11,154.88 L425.66,155.60" fill="none" stroke="#1010ff" stroke-width="2.0" stroke-dasharray="2.2 3.4" stroke-linecap="round"/>
<g font-family='"Liberation Sans", sans-serif' fill="#000" stroke="#000" stroke-width="0.3"><text x="435.2" y="53.9" font-size="12.8">Q</text><text x="444.8" y="56.5" font-size="8.5">s</text><text x="523.2" y="80.6" font-size="12.8">Q</text><text x="532.45" y="84.1" font-size="7.8">S</text><text x="532.8" y="75.7" font-size="15">'</text></g>
<text x="449.00 460.38 463.94 470.34" y="53.90" font-family='"Liberation Sans", sans-serif' font-size="12.8" fill="#000" stroke="#000" stroke-width="0.3">(/x)</text><path d="M515,0L696,0L696,1409L530,1409L197,1180L197,1010L515,1237Z" transform="translate(453.26,53.90) scale(0.00625,-0.00625)" fill="#000" stroke="#000" stroke-width="0.3" vector-effect="non-scaling-stroke"/>
<text x="539.00 550.38 553.94 560.34" y="80.60" font-family='"Liberation Sans", sans-serif' font-size="12.8" fill="#000" stroke="#000" stroke-width="0.3">(/x)</text><path d="M515,0L696,0L696,1409L530,1409L197,1180L197,1010L515,1237Z" transform="translate(543.26,80.60) scale(0.00625,-0.00625)" fill="#000" stroke="#000" stroke-width="0.3" vector-effect="non-scaling-stroke"/>
<rect x="560.4" y="179.5" width="80" height="26.5" fill="#fff" stroke="#333" stroke-width="1"/>
<path d="M565.1,186.5H588.9" stroke="#1010ff" stroke-width="2.0" stroke-dasharray="2.2 3.4" stroke-linecap="round"/>
<path d="M564.1,198.9H589.0" stroke="#ff1a1a" stroke-width="1.8" stroke-dasharray="2.9 1.45"/>
<text x="590.5" y="189.8" font-family='"Liberation Sans", sans-serif' font-size="10" fill="#000" stroke="#000" stroke-width="0.2" textLength="45.8" lengthAdjust="spacingAndGlyphs">MD-BFKL</text>
<text x="590.9" y="202.2" font-family='"Liberation Sans", sans-serif' font-size="10" fill="#000" stroke="#000" stroke-width="0.2" textLength="24.4" lengthAdjust="spacingAndGlyphs">GBW</text>
</svg>
</body></html>
